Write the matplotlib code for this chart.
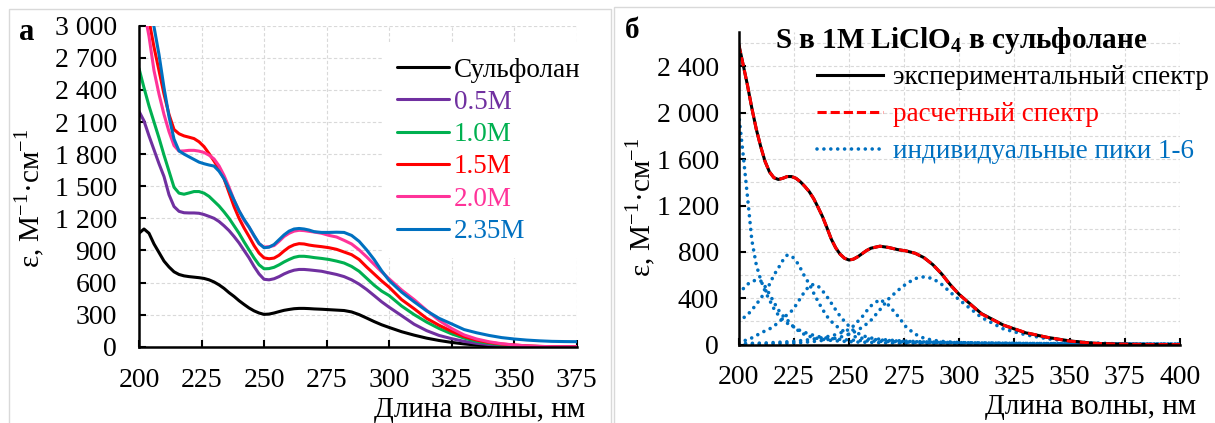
import matplotlib
matplotlib.use("Agg")
import matplotlib.pyplot as plt
from matplotlib.patches import Rectangle
from matplotlib.ticker import FuncFormatter, MultipleLocator

plt.rcParams['font.family'] = ['Liberation Serif', 'DejaVu Serif']
plt.rcParams['mathtext.fontset'] = 'custom'
plt.rcParams['mathtext.rm'] = 'Liberation Serif'
plt.rcParams['mathtext.bf'] = 'Liberation Serif:bold'

# ── panel а: spectra of S in sulfolane with LiClO4 ─────────
wl_a = list(range(200, 271, 2)) + [273, 276, 279, 282, 285, 288, 291, 294, 297, 300] \
    + list(range(305, 376, 5))

eps_sulfolane = [1060, 1100, 1060, 960, 880, 800, 745, 700, 675, 662, 655, 650, 645, 638, 625, 605,
                 578, 545, 505, 470, 430, 395, 362, 335, 315, 302, 305, 315, 328, 340, 348, 355,
                 358, 358, 356, 353,
                 350, 346, 342, 338, 325, 300, 268, 235, 205, 180,
                 140, 108, 80, 58, 40, 26, 15, 8, 3, 1, 0, 0, 0, 0, 0]
eps_05 = [2200, 2110, 1970, 1840, 1710, 1590, 1420, 1310, 1265, 1252, 1250, 1250, 1247, 1235, 1218, 1200,
          1170, 1130, 1085, 1030, 970, 900, 830, 750, 680, 630, 625, 635, 655, 680, 700, 715,
          722, 722, 718, 713,
          705, 690, 675, 655, 625, 585, 535, 478, 420, 369,
          290, 210, 150, 105, 75, 50, 32, 20, 10, 4, 2, 0, 0, 0, 0]
eps_10 = [2600, 2420, 2250, 2100, 1950, 1790, 1640, 1490, 1435, 1425, 1437, 1450, 1450, 1435, 1405, 1360,
          1315, 1260, 1200, 1130, 1060, 980, 905, 830, 765, 728, 730, 742, 765, 792, 815, 835,
          845, 845, 840, 833,
          825, 815, 800, 782, 750, 705, 640, 575, 520, 478,
          380, 300, 230, 170, 120, 80, 50, 32, 18, 9, 4, 2, 0, 0, 0]
eps_15 = [3700, 3350, 3050, 2800, 2580, 2360, 2170, 2030, 1990, 1970, 1958, 1945, 1915, 1870, 1805, 1735,
          1660, 1570, 1440, 1310, 1200, 1110, 1030, 945, 875, 830, 822, 828, 855, 895, 930, 952,
          963, 960, 950, 943,
          935, 925, 910, 885, 860, 815, 745, 680, 615, 556,
          440, 355, 265, 200, 144, 95, 62, 40, 25, 16, 8, 3, 0, 0, 0]
eps_20 = [3500, 3150, 2900, 2580, 2360, 2170, 2010, 1880, 1828, 1830, 1835, 1835, 1828, 1815, 1790, 1755,
          1690, 1600, 1490, 1370, 1270, 1180, 1115, 1035, 962, 930, 935, 945, 985, 1030, 1060, 1080,
          1088, 1085, 1078, 1072,
          1060, 1040, 1025, 994, 960, 905, 840, 770, 700, 634,
          530, 440, 340, 245, 170, 110, 72, 46, 28, 16, 8, 3, 0, 0, 0]
eps_235 = [4200, 3700, 3300, 2990, 2730, 2420, 2150, 1940, 1830, 1800, 1775, 1750, 1725, 1710, 1698, 1688,
           1640, 1570, 1470, 1370, 1270, 1190, 1120, 1040, 965, 925, 930, 955, 1000, 1045, 1080, 1100,
           1105, 1100, 1090, 1075,
           1068, 1068, 1070, 1068, 1040, 985, 905, 815, 710, 619,
           510, 420, 335, 265, 213, 160, 130, 105, 85, 72, 62, 55, 50, 48, 47]

series_a = [
    ("Сульфолан", eps_sulfolane, "#000000"),
    ("0.5M", eps_05, "#7030A0"),
    ("1.0M", eps_10, "#00B050"),
    ("1.5M", eps_15, "#FF0000"),
    ("2.0M", eps_20, "#FF3399"),
    ("2.35M", eps_235, "#0070C0"),
]

# ── panel б: S in 1M LiClO4, experimental vs fitted + peaks ──
wl_b = list(range(200, 261, 2)) + list(range(264, 301, 4)) + list(range(310, 401, 10))

eps_exp = [2600, 2420, 2240, 2040, 1860, 1710, 1580, 1490, 1440, 1425, 1435, 1450, 1450, 1435, 1405, 1365,
           1320, 1260, 1185, 1105, 1010, 910, 835, 780, 745, 730, 737, 758, 785, 812, 832,
           849, 838, 820, 808, 788, 750, 690, 610, 515, 432,
           268, 168, 102, 62, 32, 13, 4, 1, 0, 0]
eps_calc = [2590, 2420, 2240, 2040, 1860, 1710, 1580, 1490, 1440, 1425, 1435, 1450, 1450, 1435, 1405, 1365,
            1320, 1260, 1185, 1105, 1010, 910, 835, 780, 745, 730, 737, 758, 785, 812, 832,
            849, 838, 820, 808, 788, 750, 690, 610, 512, 432,
            265, 168, 104, 62, 30, 12, 5, 2, 1, 0]
peak1 = [2000, 1650, 1280, 900, 690, 560, 460, 385, 310, 255, 215, 185, 165, 140, 120, 105,
         92, 80, 70, 62, 56, 52, 48, 45, 42, 40, 38, 36, 34, 32, 31,
         28, 26, 24, 22, 20, 19, 18, 17, 16, 15,
         13, 12, 10, 9, 8, 7, 6, 6, 5, 5]
peak2 = [440, 480, 520, 545, 557, 550, 501, 435, 365, 300, 250, 215, 170, 135, 108, 86,
         72, 60, 52, 45, 40, 36, 33, 30, 28, 26, 24, 22, 21, 20, 19,
         17, 15, 14, 13, 12, 11, 10, 10, 9, 9,
         8, 7, 6, 5, 5, 4, 4, 3, 3, 3]
peak3 = [200, 228, 255, 300, 345, 400, 450, 520, 600, 660, 725, 772, 765, 725, 660, 585,
         525, 445, 372, 305, 245, 200, 165, 135, 110, 88, 72, 62, 55, 50, 46,
         40, 35, 31, 28, 25, 23, 21, 19, 18, 17,
         14, 12, 10, 9, 8, 7, 6, 5, 5, 4]
peak4 = [20, 30, 42, 58, 78, 100, 118, 135, 160, 190, 225, 258, 290, 340, 400, 460,
         505, 520, 505, 465, 415, 358, 300, 245, 200, 160, 122, 98, 80, 66, 57,
         46, 39, 34, 30, 27, 24, 22, 20, 18, 17,
         14, 12, 10, 9, 8, 7, 6, 5, 5, 4]
peak5 = [8, 9, 10, 11, 12, 13, 14, 16, 18, 20, 22, 24, 27, 30, 34, 38,
         43, 48, 54, 60, 68, 76, 86, 100, 115, 130, 160, 200, 240, 290, 335,
         390, 340, 250, 150, 90, 55, 38, 28, 22, 18,
         12, 9, 7, 6, 5, 4, 4, 3, 3, 2]
peak6 = [3, 3, 4, 4, 5, 5, 6, 7, 8, 9, 10, 11, 13, 15, 17, 20,
         23, 27, 31, 36, 42, 48, 55, 64, 75, 90, 105, 125, 150, 178, 210,
         300, 395, 465, 525, 570, 585, 570, 520, 450, 386,
         235, 135, 85, 50, 28, 15, 8, 4, 2, 1]
peaks = [peak1, peak2, peak3, peak4, peak5, peak6]

W, H = 1215, 423
FS_TICK = 20
FS_LABEL = 21
GRID = dict(color="#d9d9d9", linestyle=(0, (3, 2)), linewidth=0.8)
space_fmt = FuncFormatter(lambda v, _: f"{int(round(v)):,}".replace(",", " "))


def style_axes(ax, ypad):
    for side in ("top", "right"):
        ax.spines[side].set_visible(False)
    for side in ("left", "bottom"):
        ax.spines[side].set_linewidth(1.8)
    ax.tick_params(which="major", direction="in", length=5, width=1.5, labelsize=FS_TICK)
    ax.tick_params(which="minor", length=0)
    ax.tick_params(axis="y", pad=ypad)
    ax.tick_params(axis="x", pad=15)
    ax.grid(True, which="both", **GRID)
    ax.set_axisbelow(True)
    ax.yaxis.set_major_formatter(space_fmt)


fig = plt.figure(figsize=(W / 100, H / 100), dpi=100)

# panel frames
fig.patches.append(Rectangle((9 / W, -0.1), (611 - 9) / W, 1.1 - 9 / H, transform=fig.transFigure,
                             fill=False, edgecolor="#d9d9d9", linewidth=1))
fig.patches.append(Rectangle((614 / W, -0.1), 1.0, 1.1 - 7 / H, transform=fig.transFigure,
                             fill=False, edgecolor="#d9d9d9", linewidth=1))

# ── а ──
ax1 = fig.add_axes([139 / W, 1 - 346.7 / H, (576.7 - 139) / W, (346.7 - 25.7) / H])
for label, vals, color in series_a:
    ax1.plot(wl_a, vals, color=color, lw=2.2, label=label, solid_capstyle="round")
ax1.set_xlim(200, 375)
ax1.set_ylim(0, 3000)
ax1.xaxis.set_major_locator(MultipleLocator(25))
ax1.yaxis.set_major_locator(MultipleLocator(300))
style_axes(ax1, 16)
leg1 = ax1.legend(loc="upper left", bbox_to_anchor=(383 / W, 1 - 44 / H), bbox_transform=fig.transFigure,
                  fontsize=19.5, handlelength=1.92, handletextpad=0.2, labelspacing=0.27,
                  borderpad=0.5, borderaxespad=0, labelcolor="linecolor", fancybox=False,
                  framealpha=1, facecolor="white", edgecolor="none")
leg1.get_frame().set_linewidth(0)

# ── б ──
ax2 = fig.add_axes([738.6 / W, 1 - 344.6 / H, (1180 - 738.6) / W, (344.6 - 31.7) / H])
dot_style = dict(color="#0070C0", lw=2.6, linestyle=(0, (0.01, 1.9)), dash_capstyle="round")
for i, pk in enumerate(peaks):
    ax2.plot(wl_b, pk, label="индивидуальные пики 1-6" if i == 0 else "_nolegend_", **dot_style)
ax2.plot(wl_b, eps_exp, color="#000000", lw=2.2, label="экспериментальный спектр")
ax2.plot(wl_b, eps_calc, color="#FF0000", lw=2.2, linestyle=(0, (3, 1.3)), label="расчетный спектр")
ax2.set_xlim(200, 400)
ax2.set_ylim(0, 2700)
ax2.xaxis.set_major_locator(MultipleLocator(25))
ax2.yaxis.set_major_locator(MultipleLocator(400))
ax2.yaxis.set_minor_locator(MultipleLocator(200))
style_axes(ax2, 14)
h, l = ax2.get_legend_handles_labels()
order = [1, 2, 0]
ax2.legend([h[i] for i in order], [l[i] for i in order], loc="upper left",
           bbox_to_anchor=(817 / W, 1 - 65 / H), bbox_transform=fig.transFigure,
           fontsize=19.5, handlelength=2.45, handletextpad=0.36, labelspacing=0.45,
           borderpad=0, borderaxespad=0, labelcolor="linecolor", frameon=False)

# texts
ylab = "ε, М$^{\\mathrm{-1}}$·см$^{\\mathrm{-1}}$"
fig.text(30 / W, 1 - 198 / H, ylab, rotation=90, ha="center", va="center", fontsize=FS_LABEL)
fig.text(641 / W, 1 - 207 / H, ylab, rotation=90, ha="center", va="center", fontsize=FS_LABEL)
fig.text(585 / W, 1 - 410 / H, "Длина волны, нм", ha="right", va="center", fontsize=FS_LABEL)
fig.text(1196 / W, 1 - 407 / H, "Длина волны, нм", ha="right", va="center", fontsize=FS_LABEL)
fig.text(27 / W, 1 - 33 / H, "а", ha="center", va="center", fontsize=22, fontweight="bold")
fig.text(632 / W, 1 - 30 / H, "б", ha="center", va="center", fontsize=21, fontweight="bold")
fig.text(961 / W, 1 - 40 / H, "S в 1M LiClO$_\\mathbf{4}$ в сульфолане", ha="center", va="center",
         fontsize=21, fontweight="bold")

fig.savefig("out.png", dpi=100)
